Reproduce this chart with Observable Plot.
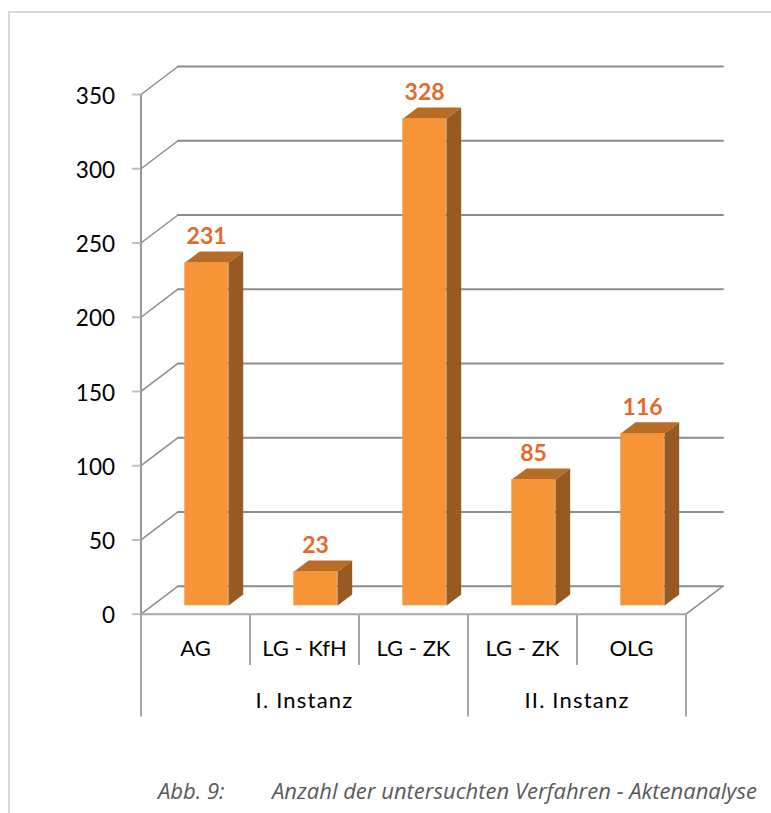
<!DOCTYPE html>
<html><head><meta charset="utf-8">
<script src="https://cdn.jsdelivr.net/npm/d3@7"></script>
<script src="https://cdn.jsdelivr.net/npm/@observablehq/plot@0.6"></script>
<style>
html,body{margin:0;padding:0;background:#fff;overflow:hidden}
#frame{position:absolute;left:8px;top:11px;width:763px;height:802px;border-left:2px solid #d9d9d9;border-top:2px solid #d9d9d9;box-sizing:border-box}
#chart{position:absolute;left:0;top:0}
.grp text{letter-spacing:1.2px}
</style></head><body>
<div id="frame"></div><div id="chart"></div>
<script>
const categories = ["AG","LG - KfH","LG - ZK","LG - ZK","OLG"];
const values = [231,23,328,85,116];
const groups = ["I. Instanz","II. Instanz"];
const groupStart = [0,3];
const groupEnd = [3,5];
const yTicks = [0,50,100,150,200,250,300,350];

const W=771,H=813;
const sx=109, sy=519.6/350;
const depthX=37/sx, depthY=28/sy;
const P=(c,v,z)=>({x:c+z*depthX,y:v+z*depthY});
const barW=0.4, z0=0.3, z1=0.7, barShift=0.5;
const topFaces=[],sideFaces=[];
values.forEach((v,i)=>{
  const a=i+barShift-barW/2,b=a+barW;
  topFaces.push(...[P(a,v,z0),P(b,v,z0),P(b,v,z1),P(a,v,z1)].map(p=>({...p,id:i})));
  sideFaces.push(...[P(b,0,z0),P(b,v,z0),P(b,v,z1),P(b,0,z1)].map(p=>({...p,id:i})));
});
const frontFaces=values.map((v,i)=>{const a=P(i+barShift-barW/2,0,z0),b=P(i+barShift+barW/2,v,z0);return {x1:a.x,x2:b.x,y1:a.y,y2:b.y};});
const diag=yTicks.flatMap(v=>[{...P(0,v,0),id:v},{...P(0,v,1),id:v}]);
const back=yTicks.flatMap(v=>[{...P(0,v,1),id:v},{...P(5,v,1),id:v}]);
const floorRight=[P(5,0,0),P(5,0,1)];
const dropShort=-34.6, dropLong=-69.3;
const font='Lato, Carlito, sans-serif';

const plot=Plot.plot({
  width:W,height:H,marginLeft:140.5,marginRight:85.5,marginTop:94,marginBottom:199.3,
  style:{fontFamily:font,background:"transparent",overflow:"visible"},
  x:{domain:[0,5],axis:null},
  y:{domain:[0,350],axis:null},
  marks:[
    Plot.line(back,{x:"x",y:"y",z:"id",stroke:"#8c8c8c",strokeWidth:2}),
    Plot.line(diag,{x:"x",y:"y",z:"id",stroke:"#8c8c8c",strokeWidth:1.5}),
    Plot.line(floorRight,{x:"x",y:"y",stroke:"#8c8c8c",strokeWidth:1.5}),
    Plot.ruleY([0],{x1:0,x2:5,stroke:"#a6a6a6",strokeWidth:2}),
    Plot.ruleX([0],{y1:0,y2:350,stroke:"#969696",strokeWidth:2}),
    Plot.axisY({ticks:yTicks,tickSize:8.5,text:null,stroke:"#bfbfbf",strokeWidth:2,label:null}),
    Plot.axisY({ticks:yTicks,tickSize:0,tickPadding:26,dy:2,fontSize:22.5,fill:"#000",label:null,color:"#000"}),
    Plot.ruleX([1,2,3,4],{y1:0,y2:dropShort,stroke:"#a6a6a6",strokeWidth:2}),
    Plot.ruleX([0,3,5],{y1:0,y2:dropLong,stroke:"#a6a6a6",strokeWidth:2}),
    Plot.text(categories,{x:(d,i)=>i+0.5,y:0,dy:35,text:d=>d,fontSize:22,fill:"#000"}),
    Plot.text(groups,{x:(d,i)=>(groupStart[i]+groupEnd[i])/2,y:0,dy:87,text:d=>d,fontSize:22,fill:"#000",className:"grp"}),
    Plot.line(sideFaces,{x:"x",y:"y",z:"id",fill:"#985a23",stroke:null}),
    Plot.line(topFaces,{x:"x",y:"y",z:"id",fill:"#b86d27",stroke:null}),
    Plot.rect(frontFaces,{x1:"x1",x2:"x2",y1:"y1",y2:"y2",fill:"#f79437"}),
    Plot.text(values,{x:(d,i)=>P(i+barShift,0,z0).x,y:d=>P(0,d,z0).y,dy:-26,text:d=>String(d),fontSize:23,fontWeight:"bold",fill:"#e4692b"}),
    Plot.text(["Abb. 9:"],{frameAnchor:"bottom-left",dx:17,dy:185,text:d=>d,fontFamily:"'Open Sans'",fontStyle:"italic",fontSize:22,fill:"#595959",textAnchor:"start"}),
    Plot.text(["Anzahl der untersuchten Verfahren - Aktenanalyse"],{frameAnchor:"bottom-left",dx:131,dy:185,text:d=>d,fontFamily:"'Open Sans'",fontStyle:"italic",fontSize:22,fill:"#595959",textAnchor:"start"})
  ]
});
document.getElementById("chart").appendChild(plot);
</script></body></html>
